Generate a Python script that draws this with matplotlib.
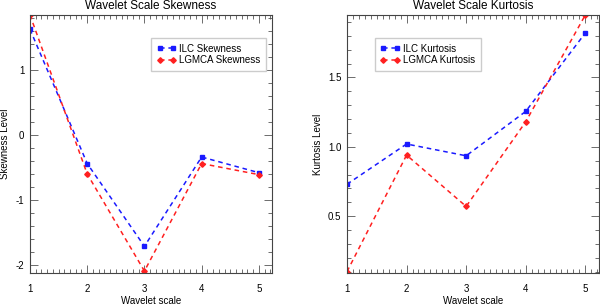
import numpy as np
import matplotlib.pyplot as plt
from matplotlib.ticker import MultipleLocator

plt.rcParams['font.family'] = ['Liberation Sans', 'DejaVu Sans']
plt.rcParams['axes.unicode_minus'] = False

# Datos
scales = [1, 2, 3, 4, 5]
ilc_skew = [1.62, -0.44, -1.71, -0.34, -0.58]
lgmca_skew = [1.84, -0.60, -2.09, -0.44, -0.61]
ilc_kurt = [0.73, 1.02, 0.935, 1.255, 1.82]
lgmca_kurt = [0.10, 0.94, 0.57, 1.18, 1.95]

fig = plt.figure(figsize=(6, 3.04), dpi=100)
ax1 = fig.add_axes([30/600, 1 - 273/304, 242/600, 258/304])
ax2 = fig.add_axes([347/600, 1 - 273/304, 252/600, 258/304])


def style_axes(ax, xmaj, xmin, ymaj, ymin):
    ax.xaxis.set_major_locator(MultipleLocator(xmaj))
    ax.xaxis.set_minor_locator(MultipleLocator(xmin))
    ax.yaxis.set_major_locator(MultipleLocator(ymaj))
    ax.yaxis.set_minor_locator(MultipleLocator(ymin))
    ax.tick_params(which='both', direction='in', top=True, right=True,
                   labelsize=7, width=0.6, color='#555555')
    ax.tick_params(axis='x', pad=8)
    ax.tick_params(axis='y', pad=4)
    ax.tick_params(which='major', length=6)
    ax.tick_params(which='minor', length=3)
    for s in ax.spines.values():
        s.set_linewidth(0.8)
        s.set_color('#444444')


def add_legend(ax, x0):
    ax.legend(loc='upper left', bbox_to_anchor=(x0, 0.93), fontsize=7,
              fancybox=False, edgecolor='#cccccc', handlelength=2.0,
              numpoints=2, borderpad=0.6, labelspacing=0.15,
              handletextpad=0.3, framealpha=1)


# Skewness
ax1.plot(scales, ilc_skew, color='#1a1aff', ls=(0, (3, 2.5)), marker='s',
         ms=2.8, lw=1.1, label='ILC Skewness')
ax1.plot(scales, lgmca_skew, color='#ff2020', ls=(0, (3, 2.5)), marker='D',
         ms=2.8, lw=1.1, label='LGMCA Skewness')
ax1.set_xlim(1, 5.23)
ax1.set_ylim(-2.12, 1.84)
style_axes(ax1, 1, 0.1, 1, 0.2)
ax1.set_title('Wavelet Scale Skewness', fontsize=8.5, pad=4)
ax1.set_xlabel('Wavelet scale', fontsize=7, labelpad=1)
ax1.set_ylabel('Skewness Level', fontsize=7, labelpad=4)
add_legend(ax1, 0.48)

# Kurtosis
ax2.plot(scales, ilc_kurt, color='#1a1aff', ls=(0, (3, 2.5)), marker='s',
         ms=2.8, lw=1.1, label='ILC Kurtosis')
ax2.plot(scales, lgmca_kurt, color='#ff2020', ls=(0, (3, 2.5)), marker='D',
         ms=2.8, lw=1.1, label='LGMCA Kurtosis')
ax2.set_xlim(1, 5.23)
ax2.set_ylim(0.09, 1.95)
style_axes(ax2, 1, 0.1, 0.5, 0.1)
ax2.set_title('Wavelet Scale Kurtosis', fontsize=8.5, pad=4)
ax2.set_xlabel('Wavelet scale', fontsize=7, labelpad=1)
ax2.set_ylabel('Kurtosis Level', fontsize=7, labelpad=4)
add_legend(ax2, 0.09)

fig.savefig('out.png', dpi=100)
